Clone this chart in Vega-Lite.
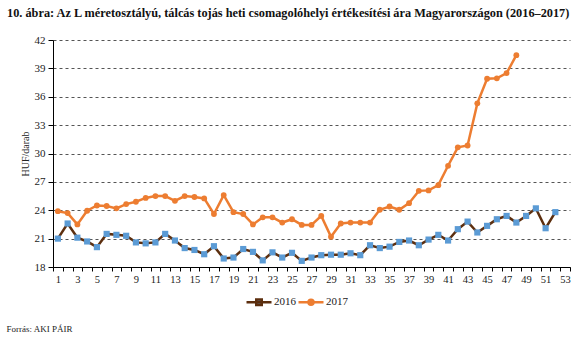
{
  "$schema": "https://vega.github.io/schema/vega-lite/v6.json",
  "width": 517,
  "height": 227,
  "autosize": {"type": "none"},
  "padding": {"left": 53, "top": 40, "right": 10, "bottom": 74},
  "background": "white",
  "title": {
    "text": "10. ábra:  Az L méretosztályú, tálcás tojás heti csomagolóhelyi értékesítési ára Magyarországon (2016–2017)",
    "anchor": "start",
    "frame": "group",
    "dx": -46,
    "offset": 15,
    "font": "Liberation Serif",
    "fontSize": 12.3,
    "fontWeight": "bold",
    "color": "#111111"
  },
  "config": {
    "view": {"stroke": null},
    "font": "Liberation Serif"
  },
  "data": {
    "values": [
      {"week": 1, "year": "2016", "price": 21.0},
      {"week": 2, "year": "2016", "price": 22.6},
      {"week": 3, "year": "2016", "price": 21.1},
      {"week": 4, "year": "2016", "price": 20.7},
      {"week": 5, "year": "2016", "price": 20.1},
      {"week": 6, "year": "2016", "price": 21.5},
      {"week": 7, "year": "2016", "price": 21.4},
      {"week": 8, "year": "2016", "price": 21.3},
      {"week": 9, "year": "2016", "price": 20.6},
      {"week": 10, "year": "2016", "price": 20.5},
      {"week": 11, "year": "2016", "price": 20.6},
      {"week": 12, "year": "2016", "price": 21.5},
      {"week": 13, "year": "2016", "price": 20.8},
      {"week": 14, "year": "2016", "price": 20.0},
      {"week": 15, "year": "2016", "price": 19.8},
      {"week": 16, "year": "2016", "price": 19.35},
      {"week": 17, "year": "2016", "price": 20.2},
      {"week": 18, "year": "2016", "price": 18.9},
      {"week": 19, "year": "2016", "price": 19.0},
      {"week": 20, "year": "2016", "price": 19.9},
      {"week": 21, "year": "2016", "price": 19.6},
      {"week": 22, "year": "2016", "price": 18.7},
      {"week": 23, "year": "2016", "price": 19.55},
      {"week": 24, "year": "2016", "price": 19.0},
      {"week": 25, "year": "2016", "price": 19.5},
      {"week": 26, "year": "2016", "price": 18.65},
      {"week": 27, "year": "2016", "price": 19.0},
      {"week": 28, "year": "2016", "price": 19.25},
      {"week": 29, "year": "2016", "price": 19.3},
      {"week": 30, "year": "2016", "price": 19.3},
      {"week": 31, "year": "2016", "price": 19.45},
      {"week": 32, "year": "2016", "price": 19.25},
      {"week": 33, "year": "2016", "price": 20.3},
      {"week": 34, "year": "2016", "price": 20.0},
      {"week": 35, "year": "2016", "price": 20.15},
      {"week": 36, "year": "2016", "price": 20.65},
      {"week": 37, "year": "2016", "price": 20.8},
      {"week": 38, "year": "2016", "price": 20.3},
      {"week": 39, "year": "2016", "price": 20.9},
      {"week": 40, "year": "2016", "price": 21.4},
      {"week": 41, "year": "2016", "price": 20.8},
      {"week": 42, "year": "2016", "price": 22.0},
      {"week": 43, "year": "2016", "price": 22.8},
      {"week": 44, "year": "2016", "price": 21.65},
      {"week": 45, "year": "2016", "price": 22.35},
      {"week": 46, "year": "2016", "price": 23.05},
      {"week": 47, "year": "2016", "price": 23.4},
      {"week": 48, "year": "2016", "price": 22.7},
      {"week": 49, "year": "2016", "price": 23.4},
      {"week": 50, "year": "2016", "price": 24.2},
      {"week": 51, "year": "2016", "price": 22.1},
      {"week": 52, "year": "2016", "price": 23.8},
      {"week": 1, "year": "2017", "price": 23.9},
      {"week": 2, "year": "2017", "price": 23.7},
      {"week": 3, "year": "2017", "price": 22.5},
      {"week": 4, "year": "2017", "price": 23.95},
      {"week": 5, "year": "2017", "price": 24.5},
      {"week": 6, "year": "2017", "price": 24.45},
      {"week": 7, "year": "2017", "price": 24.2},
      {"week": 8, "year": "2017", "price": 24.65},
      {"week": 9, "year": "2017", "price": 24.9},
      {"week": 10, "year": "2017", "price": 25.3},
      {"week": 11, "year": "2017", "price": 25.5},
      {"week": 12, "year": "2017", "price": 25.5},
      {"week": 13, "year": "2017", "price": 25.0},
      {"week": 14, "year": "2017", "price": 25.5},
      {"week": 15, "year": "2017", "price": 25.4},
      {"week": 16, "year": "2017", "price": 25.25},
      {"week": 17, "year": "2017", "price": 23.6},
      {"week": 18, "year": "2017", "price": 25.6},
      {"week": 19, "year": "2017", "price": 23.8},
      {"week": 20, "year": "2017", "price": 23.6},
      {"week": 21, "year": "2017", "price": 22.5},
      {"week": 22, "year": "2017", "price": 23.25},
      {"week": 23, "year": "2017", "price": 23.25},
      {"week": 24, "year": "2017", "price": 22.7},
      {"week": 25, "year": "2017", "price": 23.05},
      {"week": 26, "year": "2017", "price": 22.45},
      {"week": 27, "year": "2017", "price": 22.45},
      {"week": 28, "year": "2017", "price": 23.4},
      {"week": 29, "year": "2017", "price": 21.2},
      {"week": 30, "year": "2017", "price": 22.6},
      {"week": 31, "year": "2017", "price": 22.7},
      {"week": 32, "year": "2017", "price": 22.7},
      {"week": 33, "year": "2017", "price": 22.7},
      {"week": 34, "year": "2017", "price": 24.05},
      {"week": 35, "year": "2017", "price": 24.4},
      {"week": 36, "year": "2017", "price": 24.05},
      {"week": 37, "year": "2017", "price": 24.75},
      {"week": 38, "year": "2017", "price": 26.05},
      {"week": 39, "year": "2017", "price": 26.1},
      {"week": 40, "year": "2017", "price": 26.65},
      {"week": 41, "year": "2017", "price": 28.7},
      {"week": 42, "year": "2017", "price": 30.65},
      {"week": 43, "year": "2017", "price": 30.85},
      {"week": 44, "year": "2017", "price": 35.3},
      {"week": 45, "year": "2017", "price": 37.9},
      {"week": 46, "year": "2017", "price": 37.95},
      {"week": 47, "year": "2017", "price": 38.5},
      {"week": 48, "year": "2017", "price": 40.4}
    ]
  },
  "encoding": {
    "x": {
      "field": "week",
      "type": "ordinal",
      "bandPosition": 0.5,
      "scale": {
        "type": "band",
        "domain": [1,2,3,4,5,6,7,8,9,10,11,12,13,14,15,16,17,18,19,20,21,22,23,24,25,26,27,28,29,30,31,32,33,34,35,36,37,38,39,40,41,42,43,44,45,46,47,48,49,50,51,52,53],
        "paddingInner": 0,
        "paddingOuter": 0
      },
      "axis": {
        "title": "Forrás: AKI PÁIR",
        "titleX": -47,
        "titleY": 61,
        "titleAnchor": null,
        "titleAlign": "left",
        "titleBaseline": "middle",
        "titleFontSize": 9,
        "titleFontWeight": "normal",
        "titleColor": "#222222",
        "labelAngle": 0,
        "labelExpr": "datum.value % 2 == 1 ? datum.label : ''",
        "labelOverlap": false,
        "labelFontSize": 10.5,
        "labelColor": "#222222",
        "labelPadding": 3,
        "tickBand": "extent",
        "tickSize": 4,
        "tickColor": "#000000",
        "domainColor": "#000000",
        "grid": false
      }
    },
    "y": {
      "field": "price",
      "type": "quantitative",
      "scale": {"domain": [18, 42], "nice": false, "zero": false},
      "axis": {
        "title": "HUF/darab",
        "titleFontSize": 10,
        "titleFontWeight": "normal",
        "titleColor": "#222222",
        "titlePadding": 4,
        "values": [18, 21, 24, 27, 30, 33, 36, 39, 42],
        "labelFontSize": 11,
        "labelColor": "#222222",
        "labelPadding": 3,
        "tickSize": 5,
        "tickColor": "#000000",
        "domainColor": "#000000",
        "grid": true,
        "gridColor": "#555555",
        "gridDash": [3, 3],
        "gridWidth": 1
      }
    }
  },
  "layer": [
    {
      "mark": {"type": "line", "strokeWidth": 2.5},
      "encoding": {
        "stroke": {
          "field": "year",
          "type": "nominal",
          "scale": {"domain": ["2016", "2017"], "range": ["#5C2E0E", "#ED7D31"]},
          "legend": {
            "title": null,
            "orient": "none",
            "direction": "horizontal",
            "legendX": 192,
            "legendY": 248,
            "symbolType": "M-1,0H1M-0.22,-0.22H0.22V0.22H-0.22Z",
            "symbolSize": 625,
            "symbolStrokeWidth": 2.5,
            "labelFontSize": 11,
            "labelColor": "#222222",
            "labelOffset": 1,
            "columnPadding": -3,
            "encode": {
              "symbols": {
                "update": {
                  "shape": {"signal": "datum.value == '2016' ? 'M-1,0H1M-0.22,-0.22H0.22V0.22H-0.22Z' : 'M-1,0H1M0.2,0A0.2,0.2,0,1,1,-0.2,0A0.2,0.2,0,1,1,0.2,0Z'"},
                  "fill": {"signal": "datum.value == '2016' ? '#5B9BD5' : '#ED7D31'"},
                  "opacity": {"value": 1}
                }
              }
            }
          }
        }
      }
    },
    {
      "transform": [{"filter": "datum.year == '2016'"}],
      "mark": {"type": "point", "filled": true, "shape": "square", "size": 38, "opacity": 1, "color": "#5B9BD5"},
      "encoding": {}
    },
    {
      "transform": [{"filter": "datum.year == '2017'"}],
      "mark": {"type": "point", "filled": true, "shape": "circle", "size": 34, "opacity": 1, "color": "#ED7D31"},
      "encoding": {}
    }
  ]
}
